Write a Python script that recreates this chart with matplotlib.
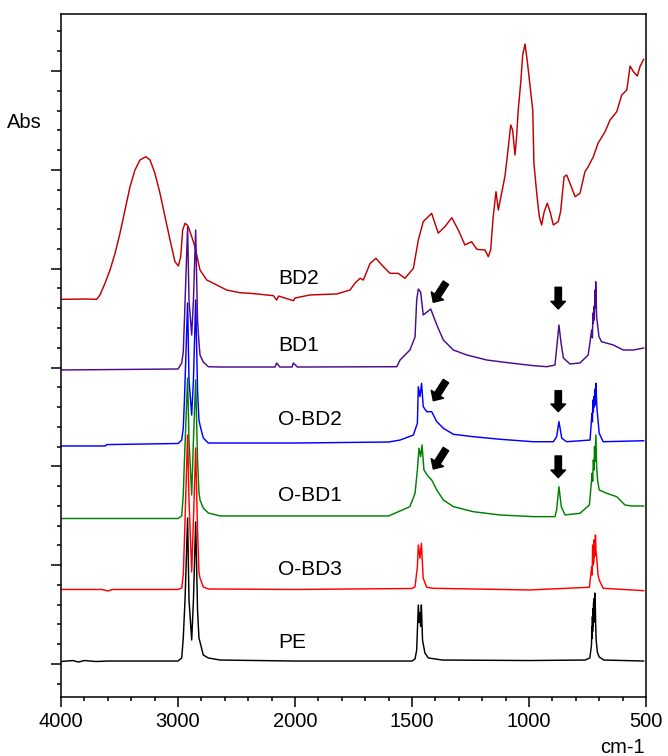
import numpy as np
import matplotlib.pyplot as plt
from matplotlib.ticker import MultipleLocator, FixedLocator, NullFormatter

plt.rcParams['font.family'] = ['Liberation Sans', 'DejaVu Sans']

# stacked spectra: [wavenumber cm-1, absorbance (offset already included)]
pe = np.array([
    [4000, 0.025], [3900, 0.035], [3850, 0.020], [3800, 0.035], [3700, 0.025],
    [3600, 0.030], [3000, 0.030], [2968, 0.061], [2955, 0.263], [2940, 0.648],
    [2918, 1.477], [2906, 0.648], [2883, 0.243], [2868, 0.648], [2849, 1.437],
    [2833, 0.546], [2821, 0.263], [2812, 0.223], [2784, 0.091], [2741, 0.061],
    [2640, 0.040], [2000, 0.030], [1500, 0.030], [1487, 0.051], [1480, 0.142],
    [1473, 0.597], [1469, 0.420], [1466, 0.520], [1463, 0.380], [1460, 0.597],
    [1455, 0.243], [1445, 0.111], [1430, 0.061], [1370, 0.040], [1000, 0.035],
    [760, 0.040], [740, 0.061], [733, 0.192], [731, 0.380], [730, 0.260],
    [729, 0.480], [728, 0.330], [727, 0.560], [726, 0.380], [724, 0.620],
    [723, 0.420], [722, 0.660], [721, 0.470], [719, 0.718], [718, 0.500],
    [717, 0.640], [715, 0.400], [713, 0.243], [708, 0.121], [700, 0.071],
    [680, 0.040], [510, 0.030]])

obd3 = np.array([
    [4000, 0.754], [3650, 0.754], [3600, 0.739], [3560, 0.754], [3000, 0.754],
    [2968, 0.769], [2955, 0.901], [2945, 1.255], [2918, 2.317], [2906, 1.659],
    [2883, 0.931], [2868, 1.457], [2849, 2.186], [2833, 1.356], [2821, 0.931],
    [2812, 0.870], [2784, 0.779], [2741, 0.759], [2000, 0.754], [1500, 0.764],
    [1487, 0.782], [1477, 0.985], [1473, 1.204], [1466, 1.070], [1460, 1.221],
    [1452, 0.867], [1437, 0.776], [1409, 0.766], [1000, 0.749], [742, 0.776],
    [732, 0.985], [730, 0.900], [728, 1.204], [727, 1.000], [725, 1.150],
    [724, 1.020], [722, 1.255], [721, 1.080], [719, 1.250], [717, 1.100],
    [716, 1.305], [714, 1.150], [711, 1.086], [705, 0.901], [700, 0.850],
    [683, 0.766], [510, 0.742]])

obd1 = np.array([
    [4000, 1.472], [3000, 1.472], [2968, 1.498], [2955, 1.710], [2945, 2.064],
    [2918, 2.894], [2906, 2.267], [2883, 1.710], [2868, 2.267], [2849, 2.874],
    [2833, 2.064], [2821, 1.740], [2812, 1.659], [2784, 1.578], [2741, 1.528],
    [2640, 1.498], [2000, 1.498], [1600, 1.498], [1509, 1.592], [1487, 1.727],
    [1477, 1.963], [1470, 2.183], [1463, 2.098], [1457, 2.216], [1449, 1.963],
    [1430, 1.895], [1416, 1.862], [1394, 1.761], [1366, 1.659], [1323, 1.592],
    [1238, 1.541], [1124, 1.508], [982, 1.491], [889, 1.491], [882, 1.558],
    [872, 1.794], [862, 1.592], [846, 1.508], [782, 1.525], [742, 1.609],
    [730, 1.930], [728, 1.850], [725, 2.064], [722, 1.963], [720, 2.200],
    [718, 2.050], [714, 2.317], [711, 2.000], [707, 1.862], [700, 1.761],
    [668, 1.727], [625, 1.693], [590, 1.609], [560, 1.599], [510, 1.599]])

obd2 = np.array([
    [4000, 2.206], [3620, 2.206], [3610, 2.220], [3000, 2.231], [2968, 2.266],
    [2955, 2.388], [2945, 2.671], [2918, 3.653], [2906, 2.874], [2883, 2.519],
    [2868, 2.874], [2849, 3.683], [2833, 2.772], [2821, 2.469], [2812, 2.418],
    [2784, 2.287], [2741, 2.236], [2000, 2.236], [1600, 2.246], [1551, 2.266],
    [1494, 2.317], [1477, 2.436], [1473, 2.806], [1466, 2.705], [1459, 2.840],
    [1452, 2.604], [1437, 2.553], [1416, 2.553], [1394, 2.452], [1366, 2.385],
    [1323, 2.324], [1238, 2.300], [1124, 2.274], [982, 2.249], [896, 2.249],
    [882, 2.300], [872, 2.452], [860, 2.284], [839, 2.249], [739, 2.266],
    [731, 2.537], [729, 2.450], [727, 2.671], [725, 2.550], [723, 2.705],
    [721, 2.600], [719, 2.780], [717, 2.620], [714, 2.840], [711, 2.650],
    [709, 2.570], [700, 2.334], [683, 2.249], [510, 2.259]])

bd1 = np.array([
    [4000, 2.975], [3000, 2.985], [2968, 3.046], [2955, 3.157], [2945, 3.481],
    [2918, 4.422], [2906, 3.683], [2883, 3.329], [2868, 3.683], [2849, 4.391],
    [2833, 3.481], [2821, 3.258], [2812, 3.127], [2784, 3.056], [2741, 3.008],
    [2640, 3.005], [2170, 3.005], [2157, 3.046], [2130, 3.005], [2025, 3.005],
    [2014, 3.046], [1990, 3.005], [1565, 3.008], [1551, 3.076], [1509, 3.177],
    [1487, 3.309], [1480, 3.683], [1473, 3.794], [1463, 3.764], [1452, 3.531],
    [1420, 3.592], [1394, 3.430], [1366, 3.278], [1323, 3.177], [1266, 3.127],
    [1181, 3.076], [1081, 3.046], [982, 3.019], [924, 3.008], [889, 3.025],
    [872, 3.430], [863, 3.248], [853, 3.096], [825, 3.036], [782, 3.046],
    [747, 3.127], [732, 3.380], [729, 3.300], [727, 3.550], [725, 3.450],
    [723, 3.615], [721, 3.481], [719, 3.700], [718, 3.784], [716, 3.600],
    [715, 3.868], [711, 3.514], [701, 3.312], [690, 3.261], [640, 3.228],
    [597, 3.177], [554, 3.177], [510, 3.197]])

bd2 = np.array([
    [4000, 3.690], [3800, 3.693], [3695, 3.690], [3667, 3.734], [3624, 3.852],
    [3581, 3.987], [3538, 4.156], [3496, 4.358], [3453, 4.594], [3410, 4.830],
    [3368, 4.998], [3325, 5.100], [3274, 5.133], [3239, 5.100], [3197, 4.965],
    [3154, 4.763], [3111, 4.526], [3068, 4.290], [3026, 4.071], [2997, 4.027],
    [2977, 4.121], [2960, 4.391], [2940, 4.459], [2922, 4.442], [2912, 4.425],
    [2883, 4.324], [2855, 4.222], [2812, 3.987], [2755, 3.886], [2669, 3.835],
    [2584, 3.784], [2470, 3.757], [2385, 3.751], [2185, 3.727], [2157, 3.683],
    [2140, 3.723], [2014, 3.676], [2000, 3.703], [1936, 3.734], [1822, 3.744],
    [1765, 3.784], [1744, 3.852], [1722, 3.903], [1708, 3.885], [1679, 4.054],
    [1654, 4.105], [1629, 4.037], [1594, 3.953], [1559, 3.953], [1530, 3.903],
    [1494, 4.003], [1473, 4.290], [1452, 4.476], [1416, 4.560], [1388, 4.360],
    [1359, 4.426], [1330, 4.516], [1302, 4.391], [1274, 4.240], [1245, 4.273],
    [1223, 4.196], [1188, 4.189], [1174, 4.121], [1164, 4.189], [1153, 4.526],
    [1141, 4.779], [1131, 4.594], [1120, 4.729], [1103, 4.931], [1093, 5.133],
    [1078, 5.454], [1070, 5.403], [1060, 5.150], [1053, 5.335], [1046, 5.606],
    [1035, 5.892], [1027, 6.162], [1017, 6.273], [1007, 6.094], [996, 5.859],
    [984, 5.606], [979, 5.066], [967, 4.763], [956, 4.526], [946, 4.442],
    [935, 4.577], [922, 4.662], [910, 4.577], [896, 4.442], [875, 4.476],
    [865, 4.577], [850, 4.931], [839, 4.948], [822, 4.847], [803, 4.728],
    [782, 4.763], [761, 4.981], [747, 5.032], [725, 5.133], [705, 5.269],
    [675, 5.386], [654, 5.504], [625, 5.588], [604, 5.757], [582, 5.808],
    [568, 6.051], [554, 5.993], [537, 5.950], [526, 6.043], [510, 6.119]])

spectra = [bd2, bd1, obd2, obd1, pe, obd3]
colors = ['#C00000', '#4B0A8F', '#0000FF', '#008000', '#000000', '#FF0000']

names = ['BD2', 'BD1', 'O-BD2', 'O-BD1', 'O-BD3', 'PE']
name_y = [3.845, 3.165, 2.418, 1.649, 0.901, 0.162]
name_x = 2145

# arrows marking new bands: (tail wn, tail y, head wn, head y)
arrows = [
    (1355, 3.858, 1409, 3.660), (875, 3.812, 875, 3.592),
    (1355, 2.863, 1409, 2.664), (875, 2.765, 875, 2.553),
    (1355, 2.175, 1409, 1.973), (875, 2.105, 875, 1.885)]


def fwd(w):
    w = np.asarray(w, dtype=float)
    return np.where(w > 2000, 2000 + (w - 2000) / 2, w)


def inv(g):
    g = np.asarray(g, dtype=float)
    return np.where(g > 2000, 2000 + (g - 2000) * 2, g)


fig = plt.figure(figsize=(6.68, 7.56), dpi=100)
ax = fig.add_axes([61 / 668, 59 / 756, 585 / 668, 683 / 756])
ax.set_xscale('function', functions=(fwd, inv))

for s, c in zip(spectra, colors):
    ax.plot(s[:, 0], s[:, 1], color=c, lw=1.05)

for n, y in zip(names, name_y):
    ax.text(name_x, y, n, fontsize=15, ha='left', va='baseline')

for x0, y0, x1, y1 in arrows:
    ax.annotate('', xy=(x1, y1), xytext=(x0, y0),
                arrowprops=dict(arrowstyle='simple,head_length=0.55,head_width=1.05,tail_width=0.46',
                                color='black', shrinkA=0, shrinkB=0, mutation_scale=10))

ax.set_xlim(4000, 500)
ax.set_ylim(-0.334, 6.577)
ax.xaxis.set_major_locator(FixedLocator([4000, 3000, 2000, 1500, 1000, 500]))
ax.xaxis.set_minor_locator(FixedLocator([3800, 3600, 3400, 3200, 2800, 2600, 2400, 2200,
                                         1900, 1800, 1700, 1600, 1400, 1300, 1200, 1100,
                                         900, 800, 700, 600]))
ax.xaxis.set_minor_formatter(NullFormatter())
ax.set_xticklabels(['4000', '3000', '2000', '1500', '1000', '500'])
ax.yaxis.set_major_locator(MultipleLocator(1))
ax.yaxis.set_minor_locator(MultipleLocator(0.2))
ax.yaxis.set_major_formatter(NullFormatter())

ax.tick_params(which='both', direction='out', width=1.1, labelsize=14.5)
ax.tick_params(which='major', length=7, pad=4)
ax.tick_params(which='minor', length=3)
for sp in ax.spines.values():
    sp.set_linewidth(1.1)

fig.text(7 / 668, 1 - 128 / 756, 'Abs', fontsize=14.5, ha='left', va='baseline')
fig.text(645 / 668, 1 - 753 / 756, 'cm-1', fontsize=14.5, ha='right', va='baseline')

fig.savefig('out.png', dpi=100)
